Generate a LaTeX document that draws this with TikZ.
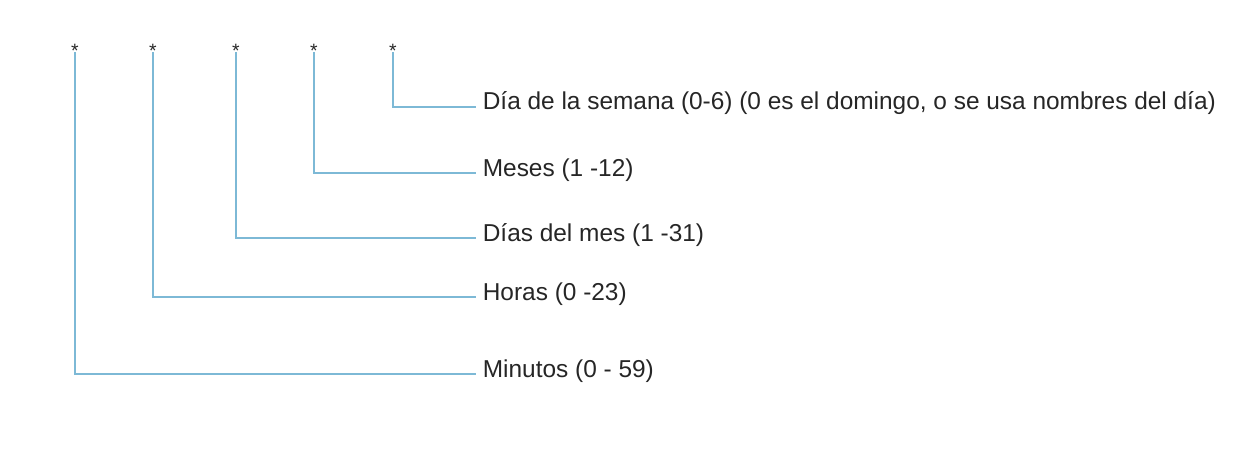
\documentclass[tikz,border=0pt]{standalone}
\usepackage{fontspec}
\setmainfont{Liberation Sans}
\usepackage{xcolor}
\usetikzlibrary{positioning}
\definecolor{cronblue}{HTML}{7DB9D6}
\definecolor{crontext}{HTML}{262626}

\begin{document}
\begin{tikzpicture}[x=0.02cm,y=-0.02cm,every node/.style={font=\fontsize{13.9}{16}\selectfont,text=crontext},
  campo/.style={line width=1.6pt,draw=cronblue},
  estrella/.style={inner sep=0pt,anchor=base,font=\fontsize{11}{12}\selectfont},
  etiqueta/.style={inner xsep=0.13cm,inner ysep=0pt,anchor=base west}]
  \useasboundingbox (0,0) rectangle (1251,466);
  \foreach \i/\x/\y/\txt in {1/75/374/{Minutos (0 - 59)},2/153/297/{Horas (0 -23)},3/236/238/{Días del mes (1 -31)},4/314/173/{Meses (1 -12)},5/393/107/{Día de la semana (0-6) (0 es el domingo, o se usa nombres del día)}}{
    \node[estrella] (s\i) at (\x,58) {*};
    \node[etiqueta] (l\i) at (476,\y+3) {\txt};
    \draw[campo] ([yshift=0.12cm]s\i.base) |- ([yshift=0.06cm]l\i.base west);
  }
\end{tikzpicture}
\end{document}
